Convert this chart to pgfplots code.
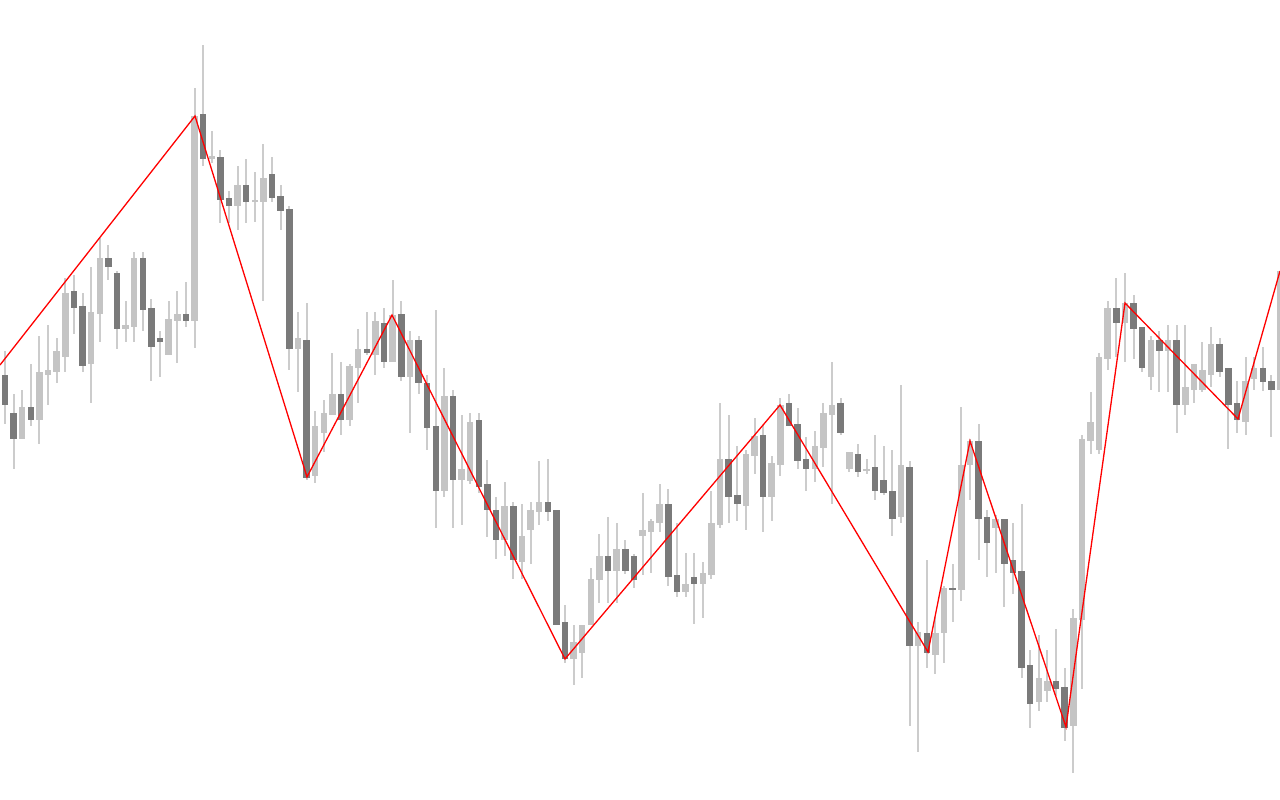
\documentclass[border=0pt]{standalone}
\usepackage{pgfplots}
\usepackage{pgfplotstable}
\pgfplotsset{compat=1.18}
\definecolor{candlelight}{RGB}{196,196,196}
\definecolor{candledark}{RGB}{122,122,122}
\definecolor{wickc}{RGB}{204,204,204}
\definecolor{zz}{RGB}{255,0,0}

\pgfplotstableread{
i wt wb
0 351 424
1 394 469
2 390 439
3 364 426
4 336 444
5 325 405
6 338 383
7 278 372
8 275 334
9 293 372
10 267 403
11 238 342
12 245 280
13 271 349
14 301 342
15 252 342
16 252 331
17 299 381
18 331 377
19 301 355
20 291 363
21 282 327
22 88 348
23 45 166
24 131 163
25 150 223
26 191 223
27 166 230
28 159 223
29 172 222
30 144 301
31 157 202
32 185 230
33 206 370
34 312 392
35 303 480
36 411 483
37 400 452
38 353 415
39 362 435
40 364 426
41 329 403
42 312 355
43 312 375
44 308 368
45 280 362
46 301 381
47 331 433
48 336 394
49 375 450
50 310 528
51 368 497
52 390 528
53 415 525
54 413 484
55 413 493
56 460 537
57 497 559
58 482 556
59 502 579
60 504 579
61 502 564
62 461 525
63 459 521
64 510 625
65 605 663
66 625 685
67 625 678
68 568 625
69 534 603
70 517 603
71 523 603
72 540 574
73 554 588
74 493 575
75 519 573
76 484 532
77 489 586
78 523 597
79 553 597
80 553 624
81 562 618
82 491 579
83 403 528
84 415 523
85 446 521
86 450 530
87 418 474
88 425 532
89 456 521
90 398 476
91 394 426
92 408 469
93 437 491
94 431 482
95 403 467
96 362 504
97 398 435
98 452 472
99 444 477
100 459 474
101 435 500
102 446 495
103 450 536
104 385 523
105 461 726
106 622 752
107 560 668
108 617 674
109 586 663
110 564 622
111 407 601
112 439 500
113 424 560
114 510 577
115 515 573
116 519 607
117 523 594
118 504 678
119 650 728
120 635 711
121 650 702
122 629 696
123 668 741
124 609 773
125 435 689
126 392 454
127 353 454
128 301 370
129 278 357
130 273 362
131 295 359
132 327 372
133 336 390
134 331 392
135 325 392
136 325 433
137 325 415
138 364 403
139 342 392
140 327 387
141 338 377
142 368 449
143 381 433
144 357 435
145 357 390
146 347 391
147 375 437
148 271 390
}\wicks

\pgfplotstableread{
i bt bb
2 407 439
4 372 420
5 370 375
6 351 372
7 293 357
10 312 364
11 258 314
14 325 329
15 258 327
19 319 355
20 314 321
22 116 321
24 156 159
27 185 206
29 200 202
30 178 202
34 338 349
36 426 476
37 413 433
38 394 415
40 366 420
41 349 368
43 321 355
45 315 362
47 340 377
51 396 491
53 469 480
54 422 481
58 506 540
60 536 562
61 510 530
62 502 512
66 642 659
67 625 653
68 579 625
69 556 580
71 549 571
74 530 536
75 521 532
76 504 523
79 584 592
81 573 584
82 523 575
83 459 525
86 454 506
87 436 456
89 463 497
90 405 465
94 446 469
95 413 448
96 405 415
98 452 469
100 469 471
104 465 517
106 632 646
108 633 655
109 588 633
111 465 590
112 441 465
115 519 528
120 678 702
121 681 691
124 618 726
125 439 620
126 422 441
127 357 450
128 308 359
130 303 323
133 340 377
135 340 351
137 387 405
138 364 390
139 370 390
140 344 375
144 381 422
145 368 379
148 271 390
}\lightbodies

\pgfplotstableread{
i bt bb
0 375 405
1 413 439
3 407 420
8 291 308
9 306 366
12 258 267
13 273 329
16 258 310
17 308 347
18 338 342
21 314 321
23 114 159
25 157 200
26 198 206
28 185 202
31 174 198
32 196 211
33 209 349
35 340 478
39 394 420
42 349 353
44 323 362
46 314 377
48 340 383
49 383 428
50 426 491
52 396 480
55 420 487
56 484 510
57 510 540
59 506 560
63 502 512
64 510 625
65 622 659
70 556 571
72 549 571
73 556 580
77 504 577
78 575 592
80 577 584
84 459 497
85 495 504
88 435 497
91 403 426
92 424 461
93 459 469
97 403 433
99 454 472
101 467 491
102 480 493
103 491 519
105 467 646
107 633 653
110 588 590
113 441 519
114 517 543
116 519 564
117 560 573
118 571 668
119 665 704
122 681 689
123 687 728
129 308 323
131 303 329
132 327 368
134 340 351
136 340 405
141 344 372
142 368 405
143 403 420
146 368 382
147 381 390
}\darkbodies

\begin{document}
\begin{tikzpicture}
\begin{axis}[
  scale only axis, width=1280pt, height=800pt,
  xmin=0, xmax=1280, ymin=0, ymax=800, y dir=reverse,
  axis line style={draw=none}, xtick=\empty, ytick=\empty,
  clip=true]
% wicks
\addplot[draw=none, mark=none, forget plot,
  error bars/.cd, y dir=both, y explicit, error mark=none,
  error bar style={line width=2pt, draw=wickc}]
  table[x expr=5+8.615*\thisrow{i}, y expr=(\thisrow{wt}+\thisrow{wb})/2,
        y error expr=(\thisrow{wb}-\thisrow{wt})/2] {\wicks};
% light bodies
\addplot[draw=none, mark=none, forget plot,
  error bars/.cd, y dir=both, y explicit, error mark=none,
  error bar style={line width=6.5pt, draw=candlelight}]
  table[x expr=5+8.615*\thisrow{i}, y expr=(\thisrow{bt}+\thisrow{bb})/2,
        y error expr=(\thisrow{bb}-\thisrow{bt})/2] {\lightbodies};
% dark bodies
\addplot[draw=none, mark=none, forget plot,
  error bars/.cd, y dir=both, y explicit, error mark=none,
  error bar style={line width=6.5pt, draw=candledark}]
  table[x expr=5+8.615*\thisrow{i}, y expr=(\thisrow{bt}+\thisrow{bb})/2,
        y error expr=(\thisrow{bb}-\thisrow{bt})/2] {\darkbodies};
% zigzag
\addplot[zz, line width=1.3pt, mark=none] coordinates {
  (0,365) (195,116) (307,477) (392,315) (565,659) (780,405)
  (928,652) (970,441) (1066,727) (1125,303) (1238,419) (1280,271)
};
\end{axis}
\end{tikzpicture}
\end{document}
